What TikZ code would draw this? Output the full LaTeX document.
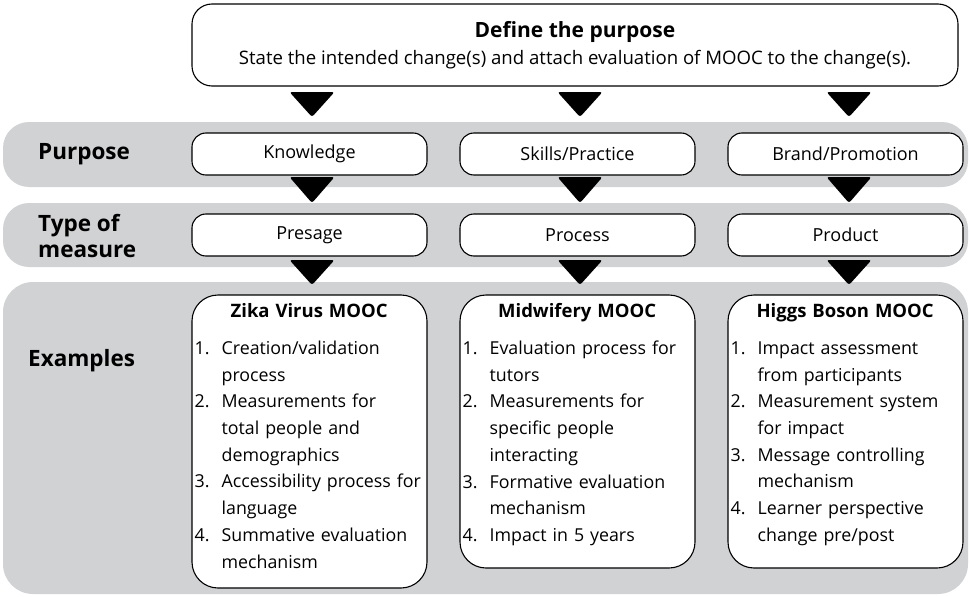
\documentclass[tikz,border=0pt]{standalone}
\usepackage{fontspec}
\setmainfont{Open Sans}
\definecolor{bandgray}{RGB}{209,210,212}
\newcommand{\num}[1]{\makebox[27pt][l]{#1}}
\newcommand{\ind}{\hspace*{27pt}}
\begin{document}
\begin{tikzpicture}[x=1pt,y=-1pt,
  band/.style={fill=bandgray, draw=none},
  topbox/.style={draw, line width=1.1pt, rounded corners=20pt, fill=white, minimum width=766pt, minimum height=82pt, align=center},
  smallbox/.style={draw, line width=1.1pt, rounded corners=14pt, fill=white, minimum width=235pt, minimum height=42pt, font=\fontsize{18}{20}\selectfont},
  exbox/.style={draw, line width=1.1pt, rounded corners=26pt, fill=white, minimum width=235pt},
  extext/.style={anchor=north west, inner sep=0pt, text width=229pt, align=left, font=\fontsize{17.8}{26.7}\selectfont},
  rowlabel/.style={anchor=west, inner sep=0pt, align=left, font=\fontsize{22.5}{26}\selectfont\bfseries},
  tri/.style={fill=black, rounded corners=2.5pt}
]
\useasboundingbox (0,0) rectangle (970,597);
% bands
\fill[band, rounded corners=26pt] (3,122) rectangle (968,187);
\fill[band, rounded corners=26pt] (3,203) rectangle (968,267);
\fill[band, rounded corners=30pt] (3,282) rectangle (968,594);
% top box
\node[topbox] (top) at (575,45) {{\fontsize{21}{22}\selectfont\bfseries Define the purpose}\\[7pt]{\fontsize{18.6}{20}\selectfont State the intended change(s) and attach evaluation of MOOC to the change(s).}};
% row labels
\node[rowlabel] (lp) at (38,154) {Purpose};
\node[rowlabel] (lt) at (38,236) {Type of\\measure};
\node[rowlabel] (le) at (28,361) {Examples};
% purpose boxes
\node[smallbox] (p1) at (309.5,154) {Knowledge};
\node[smallbox] (p2) at (577.5,154) {Skills/Practice};
\node[smallbox] (p3) at (845.5,154) {Brand/Promotion};
% measure boxes
\node[smallbox] (m1) at (309.5,235) {Presage};
\node[smallbox] (m2) at (577.5,235) {Process};
\node[smallbox] (m3) at (845.5,235) {Product};
% example boxes
\node[exbox, minimum height=293pt] (e1) at (309.5,441.5) {};
\node[exbox, minimum height=273pt] (e2) at (577.5,431.5) {};
\node[exbox, minimum height=273pt] (e3) at (845.5,431.5) {};
\node[extext] (t1) at ([xshift=3pt,yshift=-9pt]e1.north west) {\makebox[229pt]{\fontsize{18.5}{20}\selectfont\bfseries Zika Virus MOOC}\\[10pt]
\num{1.}Creation/validation\\ \ind process\\
\num{2.}Measurements for\\ \ind total people and\\ \ind demographics\\
\num{3.}Accessibility process for\\ \ind language\\
\num{4.}Summative evaluation\\ \ind mechanism};
\node[extext] (t2) at ([xshift=3pt,yshift=-9pt]e2.north west) {\makebox[229pt]{\fontsize{18.5}{20}\selectfont\bfseries Midwifery MOOC}\\[10pt]
\num{1.}Evaluation process for\\ \ind tutors\\
\num{2.}Measurements for\\ \ind specific people\\ \ind interacting\\
\num{3.}Formative evaluation\\ \ind mechanism\\
\num{4.}Impact in 5 years};
\node[extext] (t3) at ([xshift=3pt,yshift=-9pt]e3.north west) {\makebox[229pt]{\fontsize{18.5}{20}\selectfont\bfseries Higgs Boson MOOC}\\[10pt]
\num{1.}Impact assessment\\ \ind from participants\\
\num{2.}Measurement system\\ \ind for impact\\
\num{3.}Message controlling\\ \ind mechanism\\
\num{4.}Learner perspective\\ \ind change pre/post};
% triangles
\foreach \cx in {312,580,849}{
  \fill[tri] ({\cx-22.5},92) -- ({\cx+22.5},92) -- (\cx,117) -- cycle;
  \fill[tri] ({\cx-22.5},177) -- ({\cx+22.5},177) -- (\cx,203) -- cycle;
  \fill[tri] ({\cx-22.5},260) -- ({\cx+22.5},260) -- (\cx,285) -- cycle;
}
\end{tikzpicture}
\end{document}
